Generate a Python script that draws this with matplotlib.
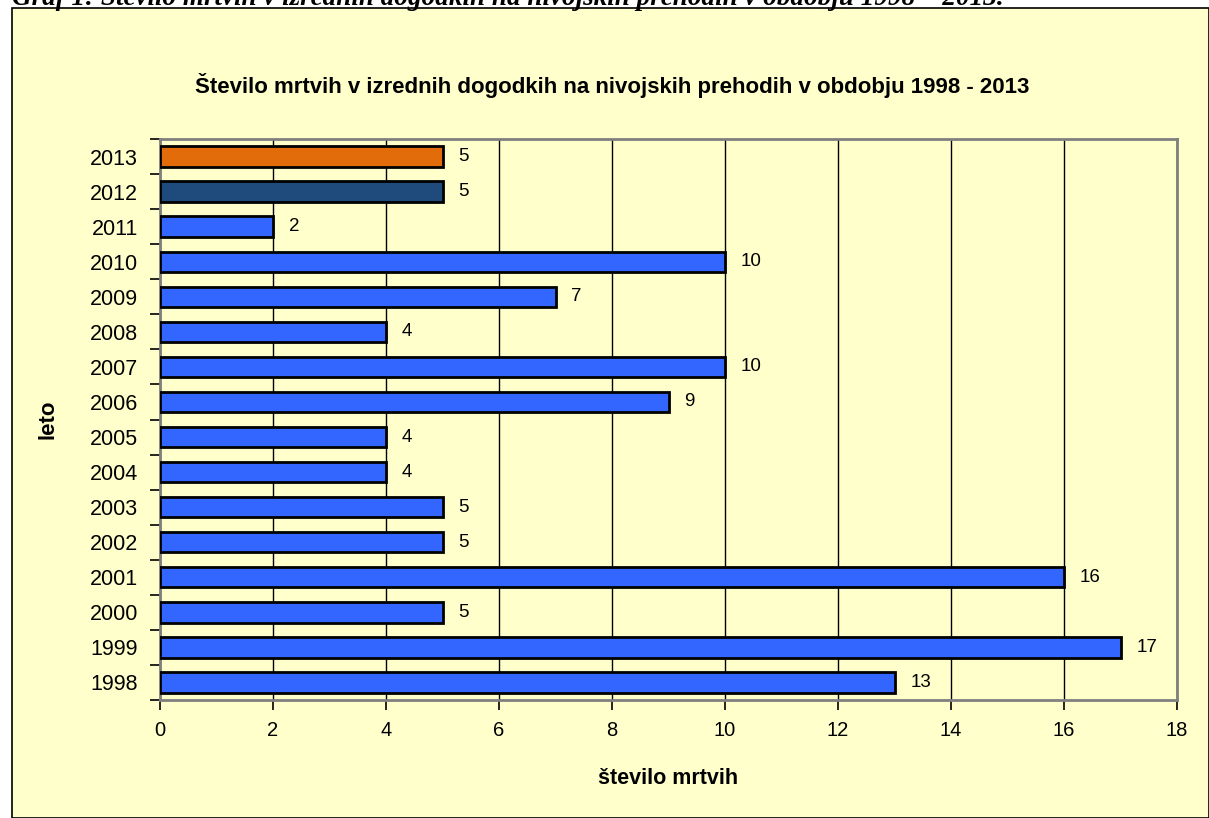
import matplotlib
matplotlib.use("Agg")
import matplotlib.pyplot as plt
from matplotlib.patches import Rectangle

# podatki
leta = ["1998", "1999", "2000", "2001", "2002", "2003", "2004", "2005",
        "2006", "2007", "2008", "2009", "2010", "2011", "2012", "2013"]
mrtvi = [13, 17, 5, 16, 5, 5, 4, 4, 9, 10, 4, 7, 10, 2, 5, 5]
barve = ["#3366FF"] * 14 + ["#1F4A7C", "#E36C0A"]

naslov = "Število mrtvih v izrednih dogodkih na nivojskih prehodih v obdobju 1998 - 2013"
graf_napis = "Graf 1: Število mrtvih v izrednih dogodkih na nivojskih prehodih v obdobju 1998 – 2013."

BG = "#FFFFCC"
plt.rcParams["font.family"] = ["Liberation Sans", "DejaVu Sans"]

fig = plt.figure(figsize=(12.09, 8.18), dpi=100)
fig.patch.set_facecolor("white")

# okvir grafikona
fig.patches.append(Rectangle((12 / 1209, 0), 1 - 12 / 1209, 1 - 8 / 818,
                             transform=fig.transFigure, facecolor=BG,
                             edgecolor="black", linewidth=1.2, zorder=-10))

# odrezan napis nad grafom (v izvirniku je viden le spodnji del)
fig.text(12 / 1209, 1 - 5 / 818, graf_napis, fontsize=19.5, fontweight="bold",
         fontstyle="italic", family="Liberation Serif", va="baseline", ha="left")

ax = fig.add_axes([160 / 1209, 1 - 700 / 818, (1177 - 160) / 1209, (700 - 139) / 818])
ax.set_facecolor(BG)

y = range(len(leta))
ax.barh(y, mrtvi, height=0.58, color=barve, edgecolor="black",
        linewidth=2, zorder=3)
for i, v in enumerate(mrtvi):
    ax.text(v + 0.28, i, str(v), va="center", ha="left", fontsize=13.5, zorder=4)

ax.set_xlim(0, 18)
ax.set_ylim(-0.5, len(leta) - 0.5)
ax.set_xticks(range(0, 19, 2))
ax.set_yticks([i - 0.5 for i in range(len(leta) + 1)], minor=False)
ax.set_yticklabels([])
ax.set_yticks(list(y), minor=True)
ax.set_yticklabels(leta, minor=True)
ax.tick_params(axis="y", which="minor", length=0, labelsize=15.5, pad=16)
ax.tick_params(axis="y", which="major", length=7, width=1.2, direction="out")
ax.tick_params(axis="x", length=7, width=1.2, labelsize=14.5, pad=8)

ax.grid(axis="x", color="black", linewidth=1, zorder=1)
for s in ["top", "right", "left", "bottom"]:
    ax.spines[s].set_color("#808080")
    ax.spines[s].set_linewidth(2)

ax.set_xlabel("število mrtvih", fontsize=15.5, fontweight="bold", labelpad=20)
ax.set_ylabel("leto", fontsize=16, fontweight="bold", labelpad=22)
fig.text(612 / 1209, 1 - 85 / 818, naslov, fontsize=16,
         fontweight="bold", ha="center", va="center")

fig.savefig("out.png", dpi=100, facecolor=fig.get_facecolor())
